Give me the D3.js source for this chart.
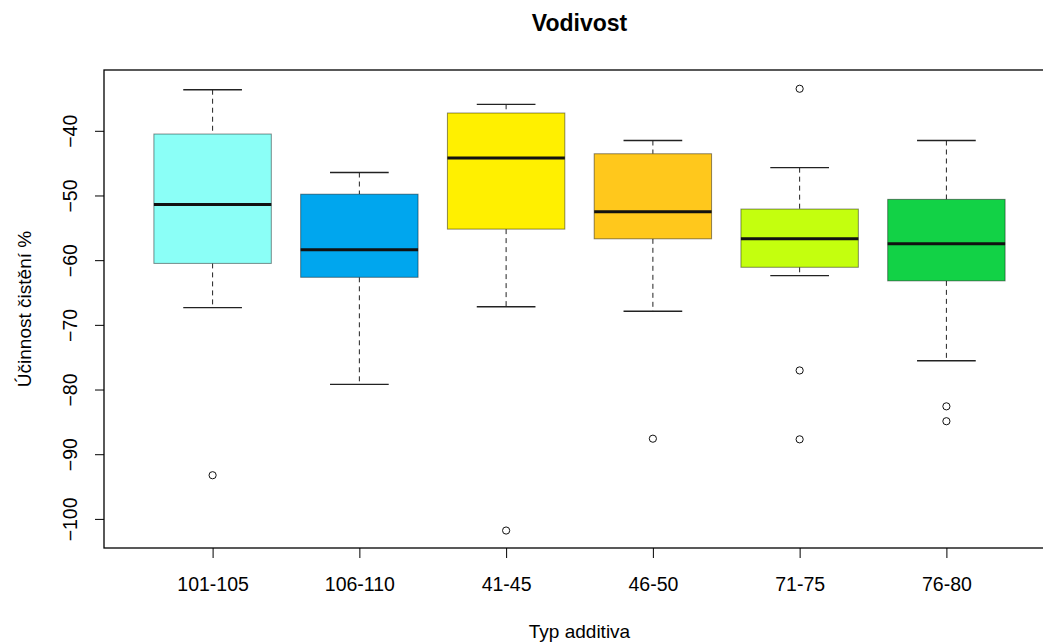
<!DOCTYPE html>
<html>
<head>
<meta charset="utf-8">
<script src="https://cdn.jsdelivr.net/npm/d3@7"></script>
<style>
  html, body { margin: 0; padding: 0; background: #fff; }
  svg { display: block; }
  text { font-family: "Liberation Sans", Arial, sans-serif; fill: #000; }
</style>
</head>
<body>
<svg id="chart" width="1043" height="643"></svg>
<script>
// ---- data ----
const categories   = ["101-105", "106-110", "41-45", "46-50", "71-75", "76-80"];
const whiskerHigh  = [-33.65, -46.45, -35.9, -41.5, -45.7, -41.5];
const q3Values     = [-40.5, -49.8, -37.25, -43.55, -52.1, -50.6];
const medianValues = [-51.4, -58.4, -44.2, -52.5, -56.7, -57.45];
const q1Values     = [-60.5, -62.65, -55.2, -56.7, -61.1, -63.2];
const whiskerLow   = [-67.35, -79.2, -67.2, -67.9, -62.4, -75.55];
const outliers     = [[-93.25], [], [-101.8], [-87.6], [-33.5, -77.05, -87.7], [-82.6, -84.9]];
const boxColors    = ["#8bfff7", "#00a6ee", "#fff000", "#ffc81c", "#c4ff0e", "#12d246"];
const yTicks       = [-40, -50, -60, -70, -80, -90, -100];
const title = "Vodivost";
const xTitle = "Typ additiva";
const yTitle = "Účinnost čistění %";

// ---- layout ----
const svg = d3.select("#chart");
const plot = { left: 104, right: 1055, top: 70, bottom: 548 };

const x = d3.scaleLinear().domain([0.26, categories.length + 0.74]).range([plot.left, plot.right]);
const y = d3.scaleLinear().domain([-104.5, -30.6]).range([plot.bottom, plot.top]);
const boxW = x(1.8) - x(1);
const capW = boxW / 2;

const g = svg.append("g");

// boxes
categories.forEach((c, i) => {
  const cx = x(i + 1);
  const grp = g.append("g");
  // whiskers (dashed)
  grp.append("line").attr("x1", cx).attr("x2", cx)
    .attr("y1", y(whiskerHigh[i])).attr("y2", y(q3Values[i]))
    .attr("stroke", "#222").attr("stroke-width", 1).attr("stroke-dasharray", "5,4");
  grp.append("line").attr("x1", cx).attr("x2", cx)
    .attr("y1", y(q1Values[i])).attr("y2", y(whiskerLow[i]))
    .attr("stroke", "#222").attr("stroke-width", 1).attr("stroke-dasharray", "5,4");
  // caps
  [whiskerHigh[i], whiskerLow[i]].forEach(v => {
    grp.append("line").attr("x1", cx - capW / 2).attr("x2", cx + capW / 2)
      .attr("y1", y(v)).attr("y2", y(v))
      .attr("stroke", "#222").attr("stroke-width", 1.3);
  });
  // box
  grp.append("rect")
    .attr("x", cx - boxW / 2).attr("width", boxW)
    .attr("y", y(q3Values[i])).attr("height", y(q1Values[i]) - y(q3Values[i]))
    .attr("fill", boxColors[i])
    .attr("stroke", "rgba(0,0,0,0.45)").attr("stroke-width", 1);
  // median
  grp.append("line").attr("x1", cx - boxW / 2).attr("x2", cx + boxW / 2)
    .attr("y1", y(medianValues[i])).attr("y2", y(medianValues[i]))
    .attr("stroke", "#111").attr("stroke-width", 3);
  // outliers
  outliers[i].forEach(v => {
    grp.append("circle").attr("cx", cx).attr("cy", y(v)).attr("r", 3.6)
      .attr("fill", "none").attr("stroke", "#111").attr("stroke-width", 1);
  });
});

// frame
svg.append("rect")
  .attr("x", plot.left).attr("y", plot.top)
  .attr("width", plot.right - plot.left).attr("height", plot.bottom - plot.top)
  .attr("fill", "none").attr("stroke", "#000").attr("stroke-width", 1.3);

// y axis
const yAxis = d3.axisLeft(y).tickValues(yTicks).tickSize(9).tickFormat(d3.format("d"));
const ya = svg.append("g").attr("transform", `translate(${plot.left},0)`).call(yAxis);
ya.select(".domain").remove();
ya.selectAll(".tick line").attr("stroke", "#000");
ya.selectAll(".tick text")
  .attr("x", 0).attr("dy", 0)
  .attr("transform", "translate(-27,0) rotate(-90)")
  .attr("text-anchor", "middle")
  .style("font-size", "19.5px")
  .style("font-family", "'Liberation Sans', Arial, sans-serif");

// x axis
const xAxis = d3.axisBottom(x).tickValues(d3.range(1, categories.length + 1)).tickSize(10)
  .tickFormat(d => categories[d - 1]);
const xa = svg.append("g").attr("transform", `translate(0,${plot.bottom})`).call(xAxis);
xa.select(".domain").remove();
xa.selectAll(".tick line").attr("stroke", "#000");
xa.selectAll(".tick text")
  .attr("y", 43).attr("dy", 0)
  .style("font-size", "19.5px")
  .style("font-family", "'Liberation Sans', Arial, sans-serif");

const midX = (plot.left + plot.right) / 2;
const midY = (plot.top + plot.bottom) / 2;

// title
svg.append("text").attr("x", midX).attr("y", 31)
  .attr("text-anchor", "middle").style("font-size", "23px").style("font-weight", "bold")
  .text(title);

// axis titles
svg.append("text").attr("x", midX).attr("y", 638)
  .attr("text-anchor", "middle").style("font-size", "19px")
  .text(xTitle);
svg.append("text").attr("transform", `translate(31,${midY}) rotate(-90)`)
  .attr("text-anchor", "middle").style("font-size", "19px")
  .text(yTitle);
</script>
</body>
</html>
